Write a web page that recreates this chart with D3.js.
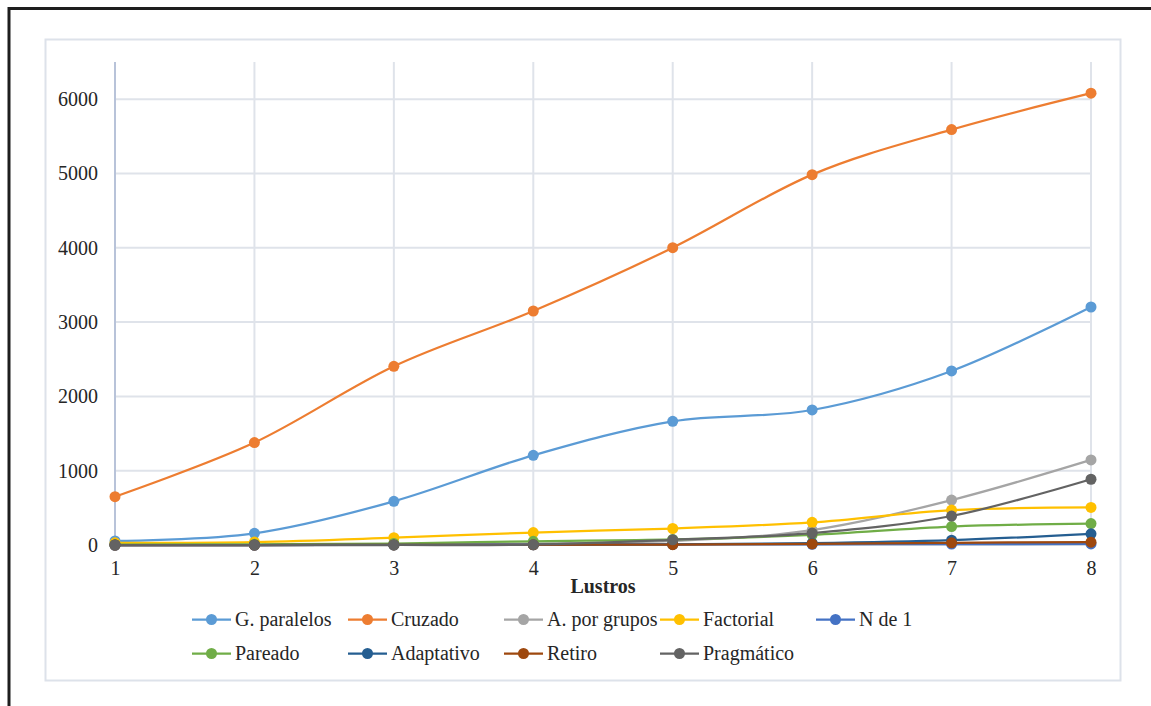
<!DOCTYPE html>
<html>
<head>
<meta charset="utf-8">
<script src="https://cdn.jsdelivr.net/npm/d3@7"></script>
<style>
  html, body { margin: 0; padding: 0; background: #fff; }
  svg { display: block; }
  text { font-family: "Liberation Serif", "Times New Roman", serif; fill: #262626; }
</style>
</head>
<body>
<svg id="chart" width="1151" height="706"></svg>
<script>
// Lustros (five-year periods) on the x axis
const lustros = [1, 2, 3, 4, 5, 6, 7, 8];
const yTicks = [0, 1000, 2000, 3000, 4000, 5000, 6000];

// Series values per lustro
const gParalelos = [54, 157, 588, 1207, 1665, 1817, 2342, 3203];
const cruzado    = [650, 1378, 2405, 3149, 4001, 4984, 5590, 6080];
const aPorGrupos = [0, 2, 8, 20, 55, 200, 605, 1145];
const factorial  = [30, 40, 98, 168, 222, 305, 470, 506];
const nDe1       = [0, 0, 2, 5, 8, 10, 12, 15];
const pareado    = [5, 10, 20, 50, 75, 137, 248, 288];
const adaptativo = [0, 0, 1, 3, 10, 25, 65, 150];
const retiro     = [0, 0, 1, 3, 5, 15, 30, 38];
const pragmatico = [0, 0, 0, 5, 70, 160, 390, 885];

const seriesNames  = ["G. paralelos", "Cruzado", "A. por grupos", "Factorial", "N de 1",
                      "Pareado", "Adaptativo", "Retiro", "Pragmático"];
const seriesValues = [gParalelos, cruzado, aPorGrupos, factorial, nDe1,
                      pareado, adaptativo, retiro, pragmatico];
const seriesColors = ["#5B9BD5", "#ED7D31", "#A5A5A5", "#FFC000", "#4472C4",
                      "#70AD47", "#255E91", "#9E480E", "#636363"];

const series = seriesNames.map((name, i) => ({
  name, color: seriesColors[i],
  values: seriesValues[i].map((v, j) => ({ x: lustros[j], y: v }))
}));

const svg = d3.select("#chart");
const FONT = "Liberation Serif";
const FS = "20px";

// Outer frame (top and left edges)
svg.append("line").attr("x1", 8).attr("y1", 8.5).attr("x2", 1151).attr("y2", 8.5)
  .attr("stroke", "#1e1e1e").attr("stroke-width", 3);
svg.append("line").attr("x1", 9).attr("y1", 7).attr("x2", 9).attr("y2", 706)
  .attr("stroke", "#1e1e1e").attr("stroke-width", 3);

// Chart area box
svg.append("rect").attr("x", 45.5).attr("y", 39.5).attr("width", 1075).attr("height", 641)
  .attr("fill", "#fff").attr("stroke", "#dde2ea").attr("stroke-width", 2);

const plot = { left: 115, right: 1091, top: 62, bottom: 545 };

const x = d3.scaleLinear().domain([1, 8]).range([plot.left, plot.right]);
const y = d3.scaleLinear().domain([0, 6500]).range([plot.bottom, plot.top]);

// Gridlines
const grid = svg.append("g");
grid.selectAll("line.h").data(yTicks.filter(d => d > 0)).join("line")
  .attr("x1", plot.left).attr("x2", plot.right)
  .attr("y1", d => y(d)).attr("y2", d => y(d))
  .attr("stroke", "#dfe3ea").attr("stroke-width", 2);
grid.selectAll("line.v").data(lustros.slice(1)).join("line")
  .attr("x1", d => x(d)).attr("x2", d => x(d))
  .attr("y1", plot.top).attr("y2", plot.bottom)
  .attr("stroke", "#dfe3ea").attr("stroke-width", 2);

// Left axis line and baseline
svg.append("line").attr("x1", plot.left).attr("x2", plot.left)
  .attr("y1", plot.top).attr("y2", plot.bottom)
  .attr("stroke", "#b8c3d9").attr("stroke-width", 2);
svg.append("line").attr("x1", plot.left).attr("x2", plot.right)
  .attr("y1", plot.bottom).attr("y2", plot.bottom)
  .attr("stroke", "#c8ccd4").attr("stroke-width", 1.5);

// Axes (labels only)
const yAxis = d3.axisLeft(y).tickValues(yTicks).tickFormat(d3.format("d")).tickSize(0).tickPadding(17);
svg.append("g").attr("transform", `translate(${plot.left},0)`).call(yAxis)
  .attr("font-family", FONT)
  .call(g => g.select(".domain").remove())
  .selectAll("text").style("font-size", FS).attr("fill", "#262626");

const xAxis = d3.axisBottom(x).tickValues(lustros).tickFormat(d3.format("d")).tickSize(0).tickPadding(16);
svg.append("g").attr("transform", `translate(0,${plot.bottom})`).call(xAxis)
  .attr("font-family", FONT)
  .call(g => g.select(".domain").remove())
  .selectAll("text").style("font-size", FS).attr("fill", "#262626");

svg.append("text").attr("x", (plot.left + plot.right) / 2).attr("y", 593)
  .attr("text-anchor", "middle").style("font-size", FS).style("font-weight", "bold")
  .text("Lustros");

// Lines and markers
const line = d3.line().x(d => x(d.x)).y(d => y(d.y)).curve(d3.curveCardinal.tension(0));

const sg = svg.append("g").selectAll("g").data(series).join("g");
sg.append("path").attr("d", d => line(d.values))
  .attr("fill", "none").attr("stroke", d => d.color).attr("stroke-width", 2.25);
sg.selectAll("circle").data(d => d.values.map(v => ({ ...v, color: d.color }))).join("circle")
  .attr("cx", d => x(d.x)).attr("cy", d => y(d.y)).attr("r", 5.5)
  .attr("fill", d => d.color);

// Legend
const legendCols = 5, colW = 156, legendX = 192, rowY = [619.5, 653.5];
const lg = svg.append("g").selectAll("g").data(series).join("g")
  .attr("transform", (d, i) => `translate(${legendX + (i % legendCols) * colW},${rowY[Math.floor(i / legendCols)]})`);
lg.append("line").attr("x1", 0).attr("x2", 39).attr("y1", 0).attr("y2", 0)
  .attr("stroke", d => d.color).attr("stroke-width", 2.25);
lg.append("circle").attr("cx", 19.5).attr("cy", 0).attr("r", 5.5).attr("fill", d => d.color);
lg.append("text").attr("x", 43).attr("y", 0).attr("dy", "0.34em")
  .style("font-size", FS).text(d => d.name);
</script>
</body>
</html>
